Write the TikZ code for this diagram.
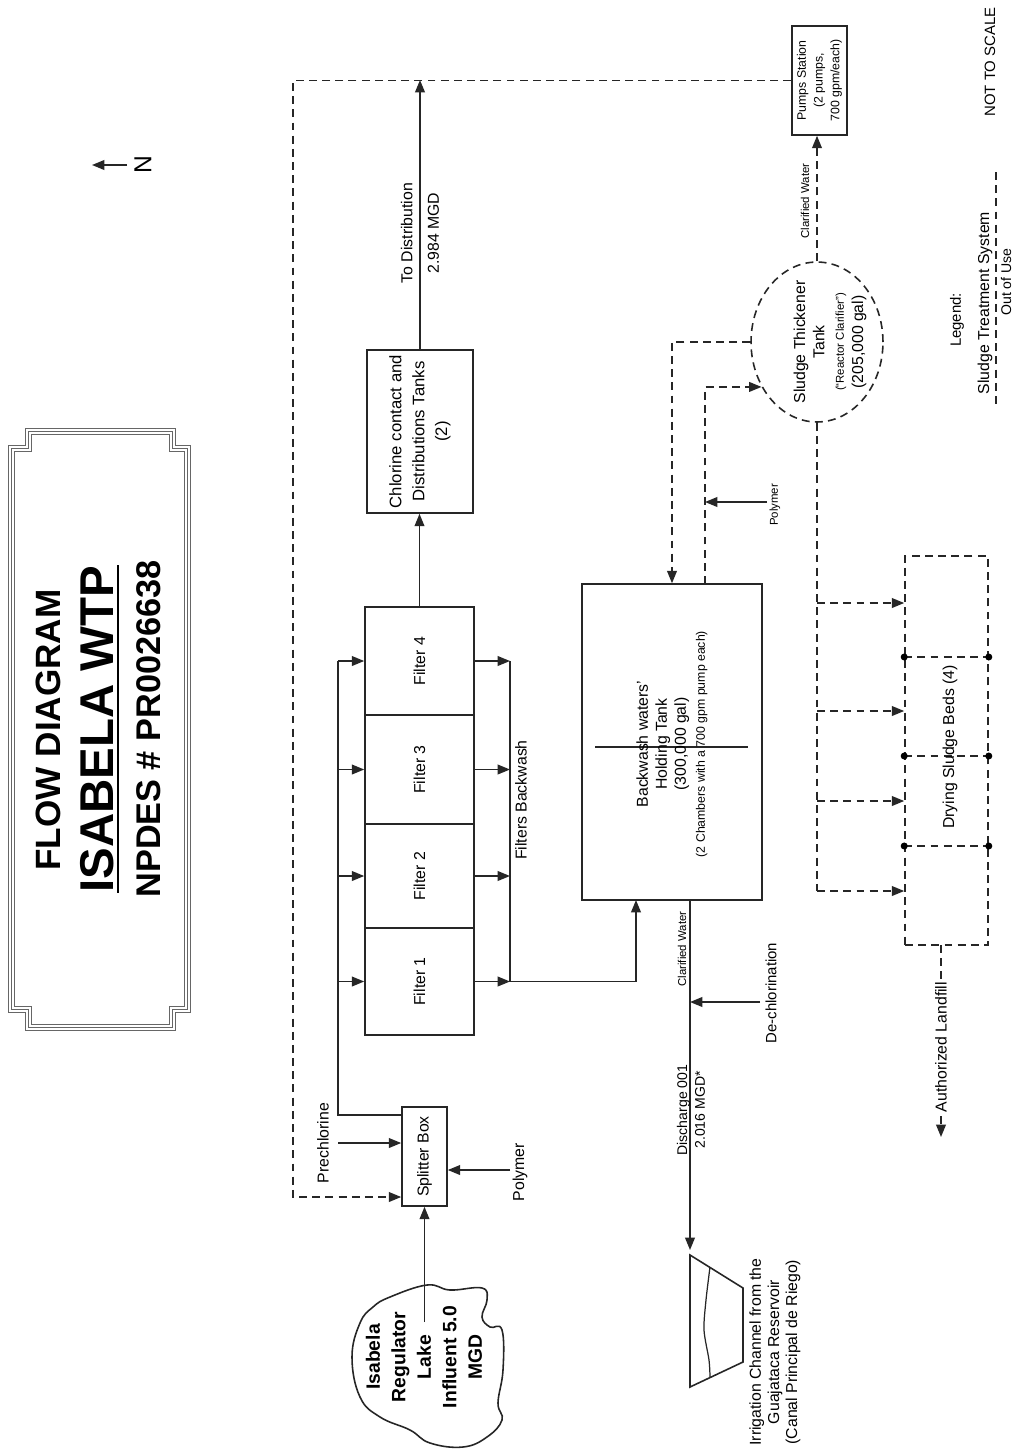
\documentclass[tikz,border=0pt]{standalone}
\usepackage{fontspec}
\setmainfont{Liberation Sans}
\usetikzlibrary{arrows.meta,shapes.geometric}

\tikzset{
  pipe/.style={line width=0.9pt, black!85},
  dpipe/.style={pipe, dash pattern=on 4.5pt off 3pt},
  flow/.style={pipe, -{Triangle[length=7pt,width=5.5pt]}},
  dflow/.style={flow, dash pattern=on 4.5pt off 3pt},
  box/.style={draw, pipe, inner sep=0pt},
  txt/.style={rotate=90, align=center, inner sep=1pt, font=\fontsize{9}{11}\selectfont},
  tinytxt/.style={txt, font=\fontsize{6.5}{8}\selectfont},
  frame/.style={line width=0.5pt, black!60},
}

\begin{document}
\begin{tikzpicture}[x=0.02cm, y=-0.02cm]
    \fill[white] (0,0) rectangle (1015,1451);
    \useasboundingbox (0,0) rectangle (1015,1451);

    % title block
    \foreach \d in {0,3,6}
        \draw[frame] (25+\d,428+\d) -- (175-\d,428+\d) -- (175-\d,445+\d) -- (190-\d,445+\d) -- (190-\d,1012-\d) -- (175-\d,1012-\d) -- (175-\d,1030-\d) -- (25+\d,1030-\d) -- (25+\d,1012-\d) -- (8+\d,1012-\d) -- (8+\d,445+\d) -- (25+\d,445+\d) -- cycle;
    \node[txt, font=\bfseries\fontsize{20}{24}\selectfont] (ttl1) at (48,730) {FLOW DIAGRAM};
    \node[txt, font=\bfseries\fontsize{27}{32}\selectfont] (ttl2) at (97,729) {ISABELA WTP};
    \draw[line width=1.6pt] (118,565) -- (118,893);
    \node[txt, font=\bfseries\fontsize{19.5}{23}\selectfont] (ttl3) at (149,729) {NPDES \# PR0026638};

    % north
    \coordinate (n-tail) at (127,165);
    \coordinate (n-tip) at (92,165);
    \draw[flow] (n-tail) -- (n-tip);
    \node[txt, font=\fontsize{14}{16}\selectfont] (north) at (143,165) {N};

    % lake
    \draw[pipe] plot[smooth cycle, tension=0.7] coordinates {(427,1285) (450,1290) (482,1288) (487,1300) (482,1317) (490,1327) (502,1330) (503,1370) (498,1403) (502,1420) (487,1437) (463,1447) (430,1443) (410,1430) (380,1417) (360,1397) (352,1357) (360,1323) (373,1307) (390,1297)};
    \node[txt, font=\bfseries\fontsize{11}{14.5}\selectfont] (lake) at (424,1357) {Isabela\\Regulator\\Lake\\Influent 5.0\\MGD};

    % splitter box
    \node[box, minimum width=0.9cm, minimum height=1.98cm] (split) at (424.5,1156.5) {};
    \node[txt] (split-t) at (split) {Splitter Box};
    \coordinate (lake-in) at (424.5,1322);
    \draw[flow] (lake-in) -- (split.south);
    \coordinate (prechl) at (338,1143);
    \draw[flow] (prechl) -- (prechl -| split.west);
    \node[txt] (prechl-t) at (323,1143) {Prechlorine};
    \coordinate (poly1) at (510,1170);
    \draw[flow] (poly1) -- (poly1 -| split.east);
    \node[txt] (poly1-t) at (520,1172) {Polymer};

    % filters
    \foreach \n/\yc/\h in {1/981.5/2.14, 2/876/2.08, 3/769.5/2.18, 4/661/2.16}{
        \node[box, minimum width=2.18cm, minimum height=\h cm] (filt\n) at (419.5,\yc) {};
        \node[txt] (filt\n-t) at (filt\n) {Filter \n};
    }
    \coordinate (feed) at (338,1115);
    \draw[pipe] (split.west |- feed) -- (feed) -- (feed |- filt4);
    \foreach \n in {1,...,4}
        \draw[flow] (feed |- filt\n) -- (filt\n.west);
    \coordinate (bw) at (510,982);
    \foreach \n in {1,...,4}
        \draw[flow] (filt\n.east) -- (filt\n.east -| bw);
    \draw[pipe] (bw |- filt4) -- (bw |- filt1);
    \node[txt] (bw-t) at (521,800) {Filters Backwash};

    % chlorine contact
    \node[box, minimum width=2.12cm, minimum height=3.26cm] (chlor) at (420,431.5) {};
    \node[txt, font=\fontsize{9.5}{13}\selectfont] (chlor-t) at (chlor) {Chlorine contact and\\Distributions Tanks\\(2)};
    \draw[flow] (filt4.north) -- (filt4.north |- chlor.south);
    \coordinate (dist) at (420,80);
    \draw[flow] (chlor.north) -- (dist);
    \node[txt, font=\fontsize{9}{15}\selectfont] (dist-t) at (420,233) {To Distribution\\2.984 MGD};

    % backwash holding tank
    \node[box, minimum width=3.6cm, minimum height=6.32cm] (tank) at (672,742) {};
    \draw[pipe] (595,747) -- (748,747);
    \node[txt, font=\fontsize{9}{10.8}\selectfont] (tank-t) at (672,744) {Backwash waters'\\Holding Tank\\(300,000 gal)\\{\fontsize{7}{8.5}\selectfont (2 Chambers with a 700 gpm pump each)}};
    \coordinate (tank-in) at (636,900);
    \draw[flow] (bw |- filt1) -| (tank-in);

    % discharge
    \coordinate (tank-out) at (690,900);
    \coordinate (chan) at (690,1250);
    \draw[flow] (tank-out) -- (chan);
    \node[tinytxt] (cw1-t) at (682,949) {Clarified Water};
    \coordinate (dechl) at (760,1002);
    \draw[flow] (dechl) -- (dechl -| tank-out);
    \node[txt, font=\fontsize{8.5}{10}\selectfont] (dechl-t) at (771,993) {De-chlorination};
    \node[txt, font=\fontsize{8}{10}\selectfont] (dis-t) at (691,1110) {Discharge 001\\2.016 MGD*};

    % irrigation channel
    \draw[pipe] (690,1255) -- (743,1288) -- (743,1362) -- (690,1387) -- cycle;
    \draw[pipe, line width=0.7pt] plot[smooth] coordinates {(710,1267) (706,1300) (704,1330) (709,1360) (710,1377)};
    \node[txt, font=\fontsize{9}{10.3}\selectfont] (chan-t) at (775,1352) {Irrigation Channel from the\\Guajataca Reservoir\\(Canal Principal de Riego)};

    % pumps station
    \node[box, minimum width=1.1cm, minimum height=2.18cm] (pump) at (819.5,80.5) {};
    \node[txt, font=\fontsize{7}{9.5}\selectfont] (pump-t) at (pump) {Pumps Station\\(2 pumps,\\700 gpm/each)};
    \coordinate (rec) at (293,1197);
    \draw[dflow] (pump.west) -| (rec) -- (rec -| split.west);

    % sludge thickener
    \node[box, dpipe, ellipse, minimum width=2.64cm, minimum height=3.2cm] (thick) at (817,342) {};
    \node[txt] (thick-t) at (830,342) {Sludge Thickener\\Tank\\{\fontsize{6.5}{8}\selectfont (``Reactor Clarifier'')}\\(205,000 gal)};
    \draw[dflow] (thick.north) -- (thick.north |- pump.south);
    \node[tinytxt] (cw2-t) at (805,201) {Clarified Water};
    \draw[dflow] (thick.west) -| (tank.north);
    \coordinate (tk-out) at (705,584);
    \draw[dflow] (tk-out) |- (thick.219);
    \coordinate (poly2) at (767,502);
    \draw[flow] (poly2) -- (poly2 -| tk-out);
    \node[tinytxt] (poly2-t) at (775,505) {Polymer};

    % drying beds
    \node[box, dpipe, minimum width=1.66cm, minimum height=7.78cm] (beds) at (946.5,750.5) {};
    \foreach \yy in {657,756,846}{
        \draw[dpipe] (beds.west |- 0,\yy) -- (beds.east |- 0,\yy);
        \fill (beds.west |- 0,\yy) circle (2pt);
        \fill (beds.east |- 0,\yy) circle (2pt);
    }
    \node[txt] (beds-t) at (950,747) {Drying Sludge Beds (4)};
    \draw[dpipe] (thick.south) -- (thick.south |- 0,891);
    \foreach \yy in {603,711,801,891}
        \draw[dflow] (thick.south |- 0,\yy) -- (beds.west |- 0,\yy);

    % landfill
    \coordinate (lf-top) at (941,945);
    \coordinate (lf) at (941,1137);
    \draw[dflow] (lf-top) -- (lf);
    \node[txt, fill=white, inner sep=0.5pt] (lf-t) at (941,1047) {Authorized Landfill};

    % legend
    \node[txt, font=\fontsize{8.5}{10}\selectfont] (leg) at (957,320) {Legend:};
    \node[txt] (leg1) at (985,303) {Sludge Treatment System};
    \draw[dpipe] (996,172) -- (996,408);
    \node[txt, font=\fontsize{8}{10}\selectfont] (leg2) at (1006,282) {Out of Use};
    \node[txt, font=\fontsize{8.5}{10}\selectfont] (nts) at (990,62) {NOT TO SCALE};

\end{tikzpicture}
\end{document}
